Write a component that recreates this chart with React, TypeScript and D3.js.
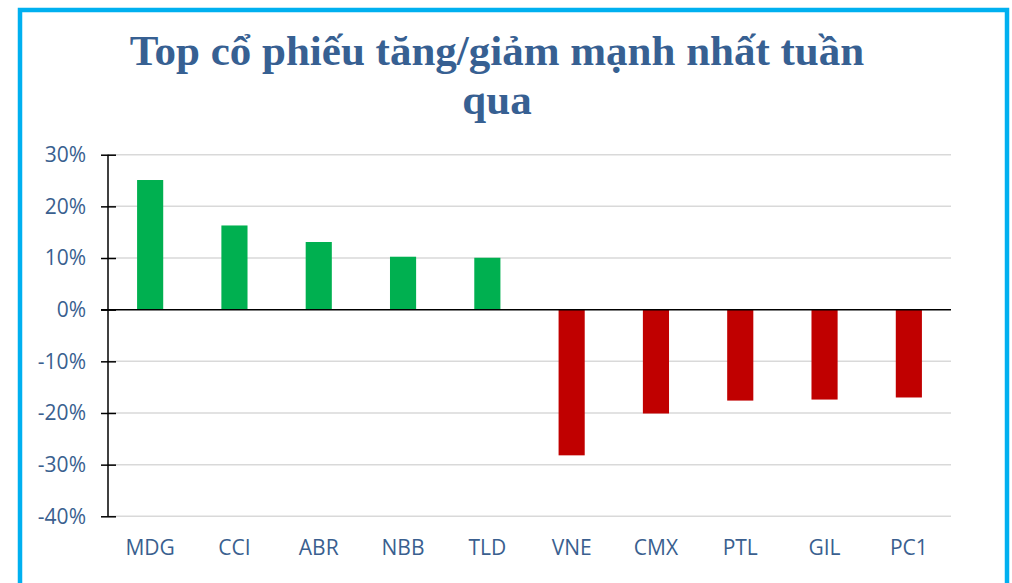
import { useRef, useEffect } from 'react'
import * as d3 from 'd3'

const stocks = ['MDG', 'CCI', 'ABR', 'NBB', 'TLD', 'VNE', 'CMX', 'PTL', 'GIL', 'PC1']
const changes = [25.1, 16.3, 13.1, 10.25, 10.05, -28.2, -20.1, -17.6, -17.4, -17.0]
const yTicks = [30, 20, 10, 0, -10, -20, -30, -40]
const titleLines = ['Top cổ phiếu tăng/giảm mạnh nhất tuần', 'qua']

const App = () => {
  const svgRef = useRef<SVGSVGElement>(null)

  useEffect(() => {
    const W = 1012
    const H = 583
    const svg = d3.select(svgRef.current)
    svg.selectAll('*').remove()
    svg.attr('width', W).attr('height', H)

    svg.append('rect')
      .attr('width', W).attr('height', H)
      .attr('fill', '#fff')

    // outer frame
    svg.append('rect')
      .attr('x', 20).attr('y', 10)
      .attr('width', 987).attr('height', 600)
      .attr('fill', 'none')
      .attr('stroke', '#00B0F0')
      .attr('stroke-width', 4.5)

    // title
    svg.append('g').selectAll('text')
      .data(titleLines)
      .enter()
      .append('text')
      .attr('x', 497)
      .attr('y', (_, i) => 65 + i * 49)
      .attr('text-anchor', 'middle')
      .attr('font-family', '"Liberation Serif", "Times New Roman", serif')
      .attr('font-weight', 'bold')
      .attr('font-size', 43)
      .attr('fill', '#376092')
      .text(d => d)

    const left = 108
    const right = 951

    const x = d3.scaleBand<string>()
      .domain(stocks)
      .range([left, right])
      .paddingInner(0.69)
      .paddingOuter(0.345)

    const y = d3.scaleLinear()
      .domain([-40, 30])
      .range([516.3, 154.7])

    // gridlines
    svg.append('g').selectAll('line')
      .data(yTicks.filter(t => t !== 0))
      .enter()
      .append('line')
      .attr('x1', left).attr('x2', right)
      .attr('y1', d => y(d)).attr('y2', d => y(d))
      .attr('stroke', '#d9d9d9')
      .attr('stroke-width', 1.5)

    // bars
    svg.append('g').selectAll('rect')
      .data(stocks)
      .enter()
      .append('rect')
      .attr('x', d => x(d)!)
      .attr('width', x.bandwidth())
      .attr('y', (_, i) => y(Math.max(0, changes[i])))
      .attr('height', (_, i) => Math.abs(y(changes[i]) - y(0)))
      .attr('fill', (_, i) => changes[i] >= 0 ? '#00B050' : '#C00000')

    // zero line
    svg.append('line')
      .attr('x1', left - 7).attr('x2', right)
      .attr('y1', y(0)).attr('y2', y(0))
      .attr('stroke', '#000')
      .attr('stroke-width', 1.5)

    // y axis
    const yAxis = svg.append('g')
      .attr('transform', `translate(${left},0)`)
      .call(d3.axisLeft(y).tickValues(yTicks).tickSize(7).tickFormat(d => `${d}%`))
    yAxis.select('.domain').remove()
    yAxis.append('line')
      .attr('y1', y(30)).attr('y2', y(-40))
      .attr('stroke', '#000').attr('stroke-width', 1.5)
    yAxis.selectAll('.tick line')
      .attr('x1', -7).attr('x2', 8)
      .attr('stroke', '#000').attr('stroke-width', 1.5)
    yAxis.selectAll('.tick text')
      .attr('x', -22)
      .attr('fill', '#3A5F8F')
      .attr('font-family', '"Open Sans", Carlito, Calibri, sans-serif')
      .attr('font-size', 21)

    // x labels
    svg.append('g').selectAll('text')
      .data(stocks)
      .enter()
      .append('text')
      .attr('x', d => x(d)! + x.bandwidth() / 2)
      .attr('y', 555)
      .attr('text-anchor', 'middle')
      .attr('fill', '#3A5F8F')
      .attr('font-family', '"Open Sans", Carlito, Calibri, sans-serif')
      .attr('font-size', 21)
      .text(d => d)
  }, [])

  return (
    <svg ref={svgRef} style={{ position: 'absolute', left: 0, top: 0 }}></svg>
  )
}
export default App
